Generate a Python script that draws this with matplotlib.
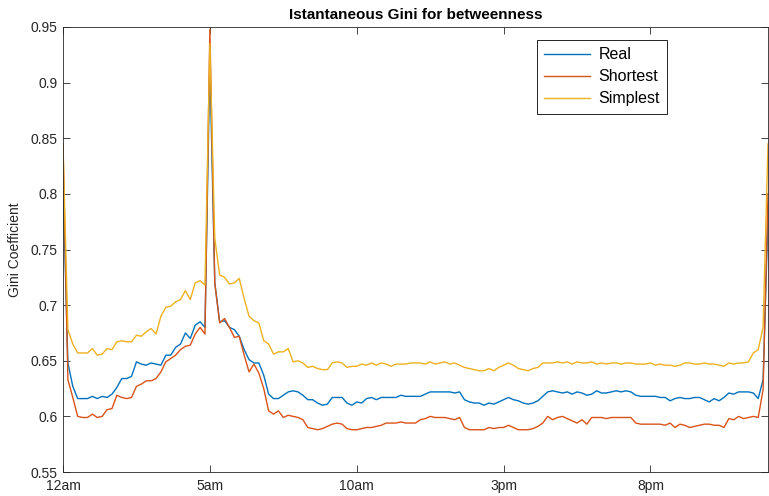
import matplotlib
matplotlib.use("Agg")
import matplotlib.pyplot as plt
import numpy as np

plt.rcParams['font.family'] = ['Liberation Sans', 'DejaVu Sans']

# Gini coefficient of betweenness, sampled every 10 minutes over one day (145 samples)
real = [
    0.810, 0.648, 0.627, 0.616, 0.616, 0.616, 0.618, 0.616, 0.618, 0.617,
    0.620, 0.626, 0.634, 0.634, 0.636, 0.649, 0.647, 0.646, 0.648, 0.647,
    0.646, 0.655, 0.655, 0.662, 0.665, 0.675, 0.670, 0.682, 0.685, 0.680,
    0.918, 0.720, 0.685, 0.686, 0.680, 0.678, 0.672, 0.660, 0.651, 0.648,
    0.648, 0.637, 0.620, 0.616, 0.616, 0.619, 0.622, 0.623, 0.622, 0.619,
    0.615, 0.615, 0.612, 0.610, 0.611, 0.617, 0.617, 0.617, 0.612, 0.610,
    0.613, 0.612, 0.616, 0.617, 0.615, 0.617, 0.617, 0.617, 0.617, 0.619,
    0.618, 0.618, 0.618, 0.618, 0.620, 0.622, 0.622, 0.622, 0.622, 0.622,
    0.621, 0.622, 0.615, 0.613, 0.612, 0.612, 0.610, 0.612, 0.611, 0.613,
    0.615, 0.617, 0.615, 0.614, 0.612, 0.611, 0.612, 0.614, 0.618, 0.622,
    0.623, 0.622, 0.621, 0.622, 0.620, 0.622, 0.621, 0.619, 0.620, 0.623,
    0.621, 0.621, 0.622, 0.623, 0.622, 0.623, 0.622, 0.619, 0.618, 0.618,
    0.618, 0.618, 0.617, 0.617, 0.614, 0.616, 0.617, 0.616, 0.616, 0.617,
    0.617, 0.615, 0.613, 0.616, 0.614, 0.617, 0.621, 0.620, 0.622, 0.622,
    0.622, 0.621, 0.616, 0.633, 0.780,
]
shortest = [
    0.845, 0.633, 0.617, 0.600, 0.599, 0.599, 0.602, 0.599, 0.600, 0.606,
    0.607, 0.619, 0.617, 0.616, 0.617, 0.627, 0.629, 0.632, 0.632, 0.634,
    0.640, 0.649, 0.652, 0.655, 0.660, 0.663, 0.664, 0.674, 0.680, 0.674,
    0.948, 0.720, 0.684, 0.688, 0.680, 0.671, 0.672, 0.655, 0.640, 0.647,
    0.639, 0.625, 0.605, 0.602, 0.605, 0.599, 0.601, 0.600, 0.599, 0.597,
    0.590, 0.589, 0.588, 0.589, 0.591, 0.593, 0.594, 0.593, 0.589, 0.588,
    0.588, 0.589, 0.590, 0.590, 0.591, 0.592, 0.594, 0.594, 0.594, 0.595,
    0.594, 0.594, 0.594, 0.597, 0.598, 0.600, 0.599, 0.599, 0.599, 0.598,
    0.597, 0.599, 0.590, 0.588, 0.588, 0.588, 0.588, 0.590, 0.589, 0.590,
    0.590, 0.592, 0.590, 0.588, 0.588, 0.588, 0.589, 0.591, 0.594, 0.600,
    0.597, 0.599, 0.600, 0.598, 0.596, 0.594, 0.597, 0.593, 0.599, 0.599,
    0.599, 0.598, 0.599, 0.599, 0.599, 0.599, 0.599, 0.594, 0.593, 0.593,
    0.593, 0.593, 0.593, 0.592, 0.594, 0.590, 0.593, 0.592, 0.590, 0.591,
    0.592, 0.593, 0.593, 0.592, 0.592, 0.590, 0.598, 0.597, 0.600, 0.598,
    0.599, 0.600, 0.599, 0.624, 0.800,
]
simplest = [
    0.843, 0.678, 0.665, 0.657, 0.657, 0.657, 0.661, 0.655, 0.656, 0.661,
    0.660, 0.667, 0.668, 0.667, 0.667, 0.673, 0.672, 0.676, 0.679, 0.674,
    0.690, 0.698, 0.699, 0.703, 0.705, 0.713, 0.705, 0.720, 0.722, 0.718,
    0.935, 0.760, 0.727, 0.725, 0.719, 0.720, 0.724, 0.706, 0.690, 0.686,
    0.684, 0.668, 0.665, 0.656, 0.658, 0.658, 0.661, 0.649, 0.650, 0.648,
    0.644, 0.645, 0.643, 0.642, 0.642, 0.648, 0.649, 0.648, 0.644, 0.645,
    0.645, 0.647, 0.646, 0.648, 0.646, 0.648, 0.647, 0.645, 0.647, 0.647,
    0.647, 0.648, 0.648, 0.648, 0.647, 0.649, 0.647, 0.648, 0.649, 0.647,
    0.648, 0.646, 0.644, 0.643, 0.642, 0.641, 0.641, 0.643, 0.641, 0.644,
    0.646, 0.648, 0.646, 0.643, 0.642, 0.641, 0.643, 0.644, 0.648, 0.648,
    0.648, 0.649, 0.648, 0.649, 0.647, 0.649, 0.648, 0.648, 0.649, 0.647,
    0.648, 0.647, 0.648, 0.648, 0.647, 0.648, 0.648, 0.647, 0.647, 0.647,
    0.648, 0.646, 0.647, 0.646, 0.646, 0.645, 0.646, 0.648, 0.648, 0.647,
    0.647, 0.648, 0.647, 0.647, 0.646, 0.645, 0.648, 0.647, 0.648, 0.648,
    0.649, 0.657, 0.660, 0.680, 0.845,
]
series_names = ['Real', 'Shortest', 'Simplest']
tick_hours = [0, 5, 10, 15, 20]
tick_labels = ['12am', '5am', '10am', '3pm', '8pm']

hours = np.arange(len(real)) / 6.0
colors = ['#0072BD', '#D95319', '#EDB120']
axis_gray = '#262626'

fig = plt.figure(figsize=(7.69, 4.96), dpi=100)
ax = fig.add_axes([63 / 769, 24 / 496, 705 / 769, 445 / 496])

for ys, name, c in zip([real, shortest, simplest], series_names, colors):
    ax.plot(hours, ys, color=c, lw=1.0, label=name)

ax.set_xlim(0, 24)
ax.set_ylim(0.55, 0.95)
ax.set_xticks(tick_hours)
ax.set_xticklabels(tick_labels)
ax.set_yticks(np.arange(0.55, 0.951, 0.05))
ax.set_yticklabels(['0.55', '0.6', '0.65', '0.7', '0.75', '0.8', '0.85', '0.9', '0.95'])
ax.tick_params(direction='in', length=5, width=0.6, colors=axis_gray,
               labelsize=10, top=True, right=True)
ax.tick_params(axis='x', pad=5)
ax.tick_params(axis='y', pad=4)
for sp in ax.spines.values():
    sp.set_color(axis_gray)
    sp.set_linewidth(0.6)

ax.set_title('Istantaneous Gini for betweenness', fontsize=11, fontweight='bold',
             color='black', pad=6)
ax.set_ylabel('Gini Coefficient', fontsize=10, color=axis_gray, labelpad=6)

leg = ax.legend(loc='upper left', bbox_to_anchor=(0.672, 0.971), fontsize=11.5,
                frameon=True, fancybox=False, edgecolor='black', framealpha=1,
                handlelength=2.9, handletextpad=0.5, labelspacing=0.45,
                borderpad=0.45, borderaxespad=0)
leg.get_frame().set_linewidth(0.6)

fig.savefig('out.png', dpi=100)
